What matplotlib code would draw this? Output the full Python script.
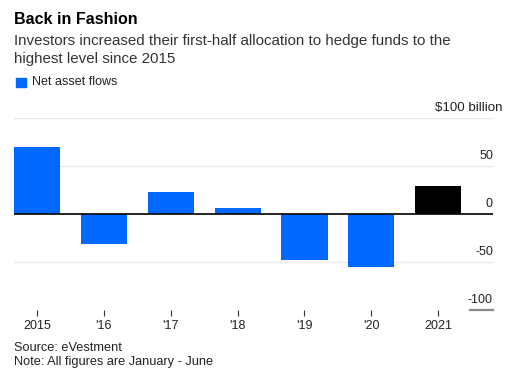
import matplotlib.pyplot as plt
from matplotlib.patches import Rectangle

plt.rcParams['font.family'] = ['Liberation Sans', 'DejaVu Sans']

years = ['2015', "'16", "'17", "'18", "'19", "'20", '2021']
flows = [70, -31, 23, 6.5, -47.5, -55, 29]
colors = ['#0068ff'] * 6 + ['#000000']
yticks = [50, 0, -50, -100]
ylabels = ['50', '0', '-50', '-100']

W, H = 518, 378
fig = plt.figure(figsize=(W / 100, H / 100), dpi=100)
ax = fig.add_axes([14 / W, (H - 310) / H, (493 - 14) / W, (310 - 118) / H])

x = range(len(years))
ax.bar(x, flows, width=0.69, color=colors, zorder=3)
ax.set_xlim(-0.344, 6.82)
ax.set_ylim(-100, 100)

for v in [100, 50, -50]:
    ax.axhline(v, color='#e8e8e8', lw=1, zorder=1)
ax.axhline(0, color='black', lw=1.2, zorder=4)
ax.plot([0.952, 1.0], [-100, -100], transform=ax.get_yaxis_transform(),
        color='#888888', lw=1.6, clip_on=False)

for v, lab in zip(yticks, ylabels):
    ax.text(1.0, v + 4.5, lab, transform=ax.get_yaxis_transform(),
            ha='right', va='bottom', fontsize=9, color='#222222')
ax.text(1.0 + 9 / 479, 100 + 4.5, '$100 billion', transform=ax.get_yaxis_transform(),
        ha='right', va='bottom', fontsize=9.6, color='#222222')

ax.set_xticks(list(x))
ax.set_xticklabels(years, fontsize=9, color='#222222')
ax.tick_params(axis='x', length=4, width=0.8, color='#333333', pad=3)
ax.set_yticks([])
for s in ax.spines.values():
    s.set_visible(False)

fig.text(14 / W, 1 - 19 / H, 'Back in Fashion', fontsize=11.5, fontweight='bold',
         va='center', ha='left')
fig.text(14 / W, 1 - 50 / H,
         'Investors increased their first-half allocation to hedge funds to the\nhighest level since 2015',
         fontsize=10.9, va='center', ha='left', color='#333333', linespacing=1.4)
fig.patches.append(Rectangle((16 / W, 1 - 87 / H), 9.5 / W, 9.5 / H,
                             transform=fig.transFigure, color='#0068ff'))
fig.text(31.5 / W, 1 - 82 / H, 'Net asset flows', fontsize=9, va='center',
         ha='left', color='#222222')
fig.text(14 / W, 1 - 348 / H, 'Source: eVestment', fontsize=9.2, va='center',
         ha='left', color='#222222')
fig.text(14 / W, 1 - 362 / H, 'Note: All figures are January - June', fontsize=9.2,
         va='center', ha='left', color='#222222')

fig.savefig('out.png', dpi=100)
